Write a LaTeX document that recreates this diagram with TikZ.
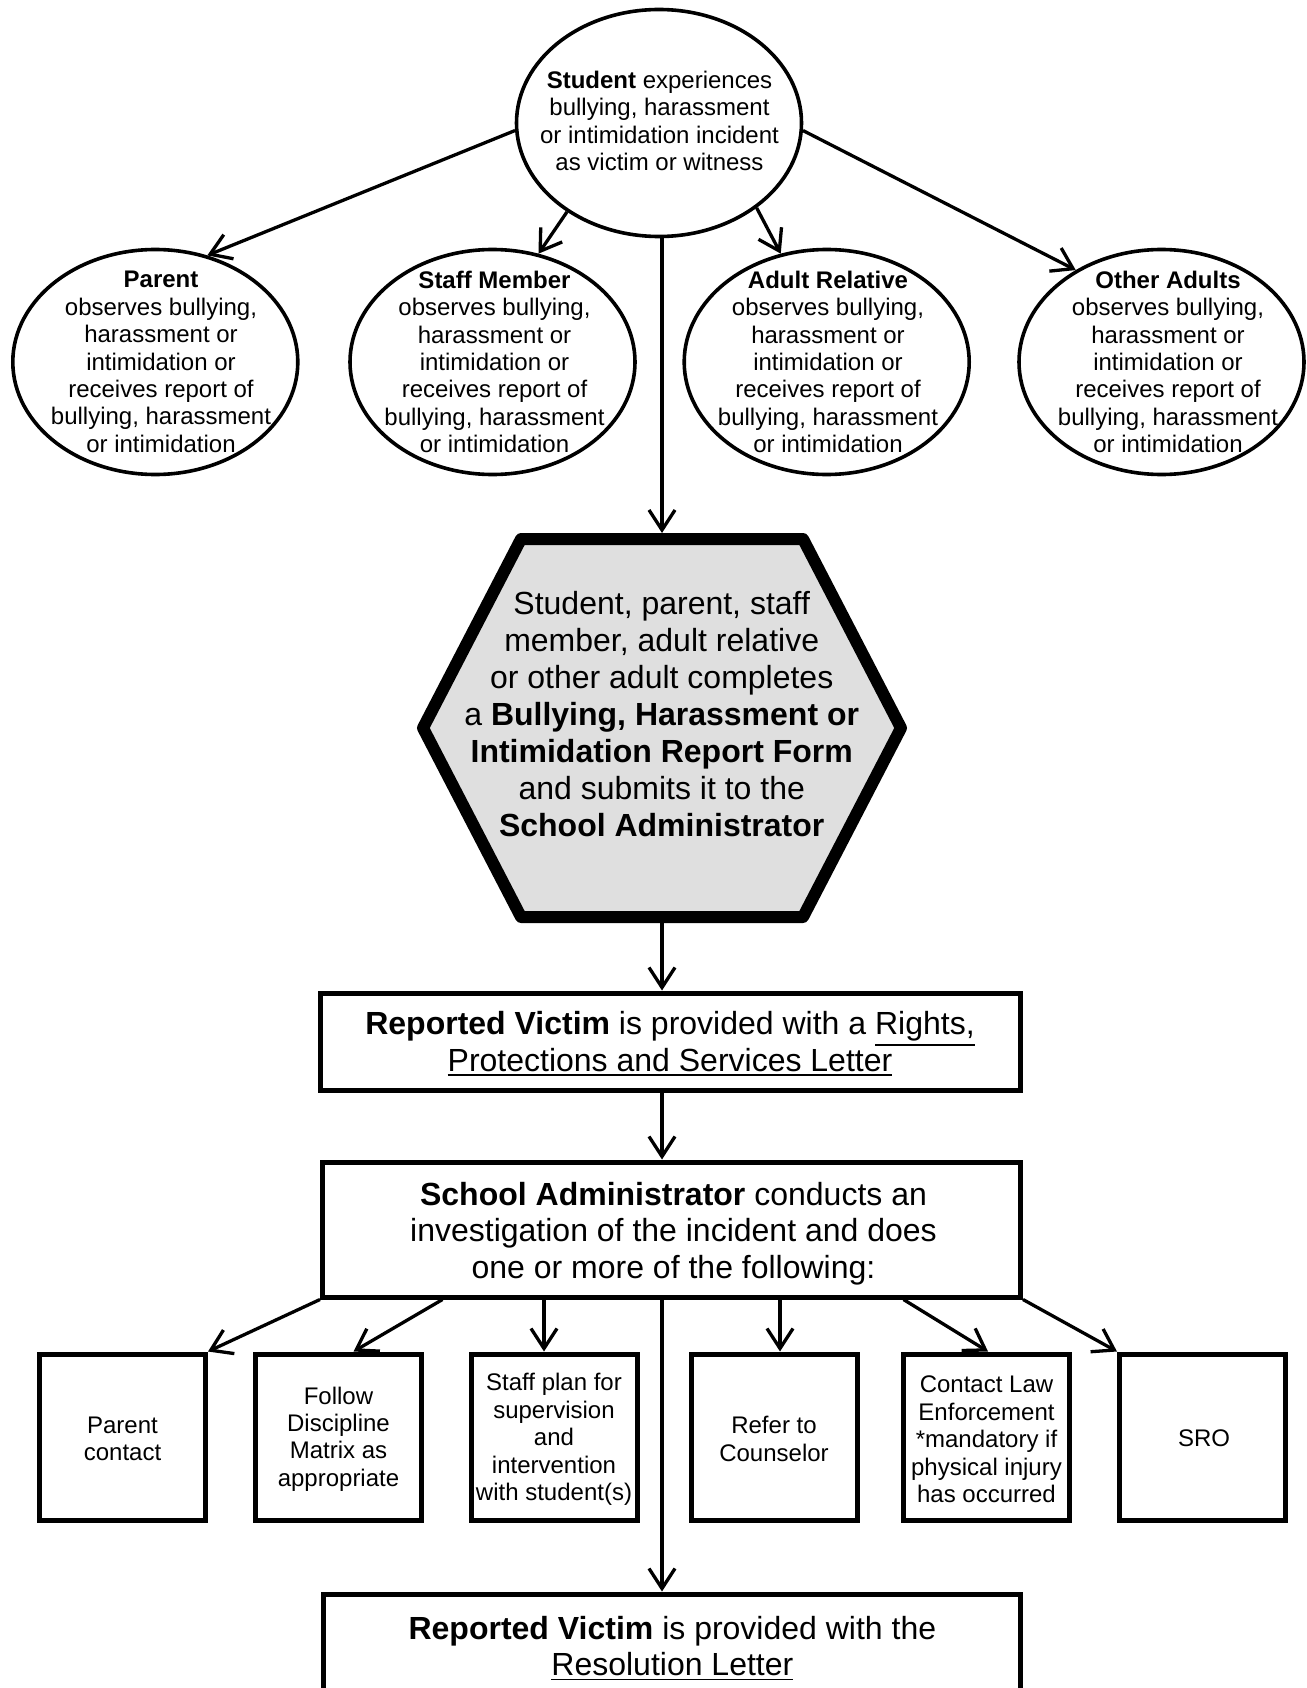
\documentclass[tikz,border=0pt]{standalone}
\usepackage{fontspec}
\setmainfont{Liberation Sans}
\usetikzlibrary{arrows.meta,shapes.geometric,calc}
\newcommand\myul[1]{\setbox0=\hbox{#1}\rlap{\smash{\rule[\dimexpr-\dp0-4pt\relax]{\wd0}{1.5pt}}}\box0}
\begin{document}
\begin{tikzpicture}[x=1pt,y=-1pt,
  ell/.style={draw, ellipse, line width=3.6pt, minimum width=285pt, minimum height=227pt, inner sep=0pt},
  sell/.style={ell, minimum height=225pt},
  txts/.style={font=\fontsize{24}{27.4}\selectfont, align=center, inner sep=0pt},
  txtb/.style={font=\fontsize{32}{36.6}\selectfont, align=center, inner sep=0pt},
  box/.style={draw, rectangle, line width=5pt, inner sep=0pt},
  sbox/.style={box, minimum width=166pt, minimum height=166pt},
  arr/.style={line width=3.3pt, -{Straight Barb[length=20pt,width=26pt]}},
  hexline/.style={line width=12pt, line join=round, fill=gray!25}
]
\useasboundingbox (0,0) rectangle (1306,1688);
\clip (0,0) rectangle (1306,1688);

% top ellipse
\node[ell] (top) at (659,123) {};
\node[txts] (topT) at (659.5,120.8) {\textbf{Student} experiences\\bullying, harassment\\or intimidation incident\\as victim or witness};

% second row ellipses
\node[sell] (parent) at (155.3,362) {};
\node[txts] (parentT) at (161,362) {\textbf{Parent}\\observes bullying,\\harassment or\\intimidation or\\receives report of\\bullying, harassment\\or intimidation};
\node[sell] (staff) at (492.5,362) {};
\node[txts] (staffT) at (494.5,362) {\textbf{Staff Member}\\observes bullying,\\harassment or\\intimidation or\\receives report of\\bullying, harassment\\or intimidation};
\node[sell] (adult) at (826.7,362) {};
\node[txts] (adultT) at (828,362) {\textbf{Adult Relative}\\observes bullying,\\harassment or\\intimidation or\\receives report of\\bullying, harassment\\or intimidation};
\node[sell] (other) at (1161.5,362) {};
\node[txts] (otherT) at (1168,362) {\textbf{Other Adults}\\observes bullying,\\harassment or\\intimidation or\\receives report of\\bullying, harassment\\or intimidation};

% hexagon
\node[inner sep=0pt, outer sep=0pt, minimum width=490pt, minimum height=390pt] (hex) at (662,728) {};
\draw[hexline] ([xshift=6pt]hex.west) -- ([xshift=104pt,yshift=-6pt]hex.north west)
  -- ([xshift=-104pt,yshift=-6pt]hex.north east) -- ([xshift=-6pt]hex.east)
  -- ([xshift=-104pt,yshift=6pt]hex.south east) -- ([xshift=104pt,yshift=6pt]hex.south west) -- cycle;
\node[txtb, font=\fontsize{32}{37}\selectfont] (hexT) at (661.7,713.8) {Student, parent, staff\\member, adult relative\\or other adult completes\\a \textbf{Bullying, Harassment or}\\\textbf{Intimidation Report Form}\\and submits it to the\\\textbf{School Administrator}};

% boxes
\node[box, txtb, minimum width=700pt, minimum height=97.5pt] (rights) at (670,1041.75) {\textbf{Reported Victim} is provided with a \myul{Rights,}\\\myul{Protections and Services Letter}};
\node[box, minimum width=698pt, minimum height=135pt] (admin) at (671.5,1229.5) {};
\node[txtb] (adminT) at (673.5,1233.5) {\textbf{School Administrator} conducts an\\investigation of the incident and does\\one or more of the following:};

\node[sbox] (b1) at (122.5,1437) {};
\node[txts] (b1T) at (122.5,1439) {Parent\\contact};
\node[sbox] (b2) at (338.5,1437) {};
\node[txts] (b2T) at (338.5,1439) {Follow\\Discipline\\Matrix as\\appropriate};
\node[sbox] (b3) at (554,1437) {};
\node[txts] (b3T) at (554,1439.5) {Staff plan for\\supervision\\and\\intervention\\with student(s)};
\node[sbox] (b4) at (774,1437) {};
\node[txts] (b4T) at (774,1439) {Refer to\\Counselor};
\node[sbox] (b5) at (986.5,1437) {};
\node[txts] (b5T) at (986.5,1439.5) {Contact Law\\Enforcement\\*mandatory if\\physical injury\\has occurred};
\node[sbox] (b6) at (1202.5,1437) {};
\node[txts] (b6T) at (1204,1438) {SRO};

\node[box, minimum width=697pt, minimum height=140pt, anchor=north] (final) at (671.5,1591.5) {};
\node[txtb] (finalT) at (672.4,1646) {\textbf{Reported Victim} is provided with the\\\myul{Resolution Letter}};

% connectors
\draw[arr] (top.183) -- (parent.64);
\draw[arr] (top.224) -- (staff.67);
\draw[arr] (top.319) -- (adult.113);
\draw[arr] (top.357) -- (other.133);
\draw[arr] (top.south -| hex.north) -- (hex.north);
\draw[arr] (hex.south) -- (rights.north -| hex.south);
\draw[arr] (rights.south -| hex.south) -- (admin.north -| hex.south);
\draw[arr] (admin.south -| hex.south) -- (final.north -| hex.south);
\draw[arr] (admin.south west) -- (b1.north east);
\draw[arr] ([xshift=122.5pt]admin.south west) -- ([xshift=15pt]b2.north);
\draw[arr] ([xshift=-10pt]b3.north |- admin.south) -- ([xshift=-10pt]b3.north);
\draw[arr] ([xshift=6pt]b4.north |- admin.south) -- ([xshift=6pt]b4.north);
\draw[arr] ([xshift=-119.5pt]admin.south east) -- ([xshift=1.5pt]b5.north);
\draw[arr] (admin.south east) -- (b6.north west);
\end{tikzpicture}
\end{document}
